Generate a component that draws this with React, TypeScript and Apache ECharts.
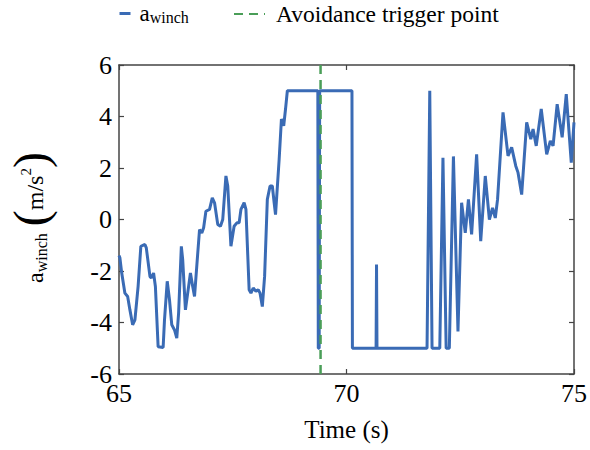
import React, { useEffect, useRef } from "react";
import * as echarts from "echarts";

const times: number[] = [
  65.0, 65.02, 65.06, 65.13, 65.19, 65.24, 65.3, 65.35, 65.42, 65.48, 65.57, 65.6, 65.68, 65.71, 65.76, 65.8,
  65.86, 65.97, 66.0, 66.06, 66.11, 66.16, 66.22, 66.27, 66.31, 66.37, 66.4, 66.46, 66.51, 66.57, 66.62, 66.66,
  66.72, 66.77, 66.82, 66.86, 66.91, 66.99, 67.05, 67.1, 67.17, 67.23, 67.28, 67.35, 67.39, 67.46, 67.53, 67.59,
  67.64, 67.68, 67.75, 67.79, 67.86, 67.9, 67.95, 68.01, 68.06, 68.1, 68.15, 68.2, 68.26, 68.32, 68.37, 68.41,
  68.44, 68.52, 68.57, 68.62, 68.66, 68.7, 69.37, 69.38, 69.4, 69.41, 70.12, 70.13, 70.65, 70.66, 70.67, 71.77,
  71.78, 71.83, 71.88, 72.05, 72.12, 72.19, 72.26, 72.35, 72.45, 72.53, 72.61, 72.68, 72.75, 72.86, 72.95, 73.05,
  73.14, 73.21, 73.27, 73.32, 73.44, 73.55, 73.63, 73.72, 73.77, 73.85, 73.96, 74.05, 74.1, 74.17, 74.28, 74.4,
  74.48, 74.54, 74.63, 74.74, 74.83, 74.94, 75.0,
];

const winchAccel: number[] = [
  -1.4, -1.49, -2.08, -2.86, -2.99, -3.51, -4.09, -3.9, -2.6, -1.04, -0.97, -1.1, -2.21, -2.27, -2.08, -2.6,
  -4.94, -4.97, -3.9, -2.4, -3.12, -4.09, -4.29, -4.61, -3.64, -1.04, -1.56, -3.51, -2.86, -2.08, -2.6, -2.99,
  -1.56, -0.39, -0.52, -0.32, 0.32, 0.39, 0.84, 0.65, -0.19, -0.26, 0.0, 1.69, 1.3, -1.04, -0.26, -0.13,
  -0.13, 0.39, 0.65, 0.39, -2.73, -2.86, -2.66, -2.79, -2.73, -2.86, -3.38, -2.21, 0.78, 1.3, 1.3, 0.65,
  0.19, 2.34, 3.9, 3.64, 4.29, 5.0, 5.0, -5.0, -5.0, 5.0, 5.0, -5.0, -5.0, -1.75, -5.0, -5.0,
  -5.0, 5.0, -5.0, -5.0, 2.4, -5.0, -5.0, 2.45, -4.35, 0.65, -0.52, 0.78, -0.58, 2.53, -0.84, 1.69,
  0.0, 0.45, 0.06, 0.78, 4.16, 2.47, 2.8, 2.08, 1.82, 0.97, 3.77, 3.12, 3.51, 2.86, 4.29, 2.53,
  3.05, 2.86, 4.48, 3.19, 4.87, 2.21, 3.77,
];

const triggerTime = 69.43;
const yRange: number[] = [-6, 6];
const xTicks: number[] = [65, 70, 75];

// y-axis label pieces: [text, fontSize, baseline offset]
const yLabelParts: [string, number, number][] = [
  ["a", 24, 0],
  ["winch", 16, 4],
  ["(", 48, 4],
  ["m/s", 24, 0],
  ["2", 15, -12],
  [")", 48, 4],
];

const FONT = "'Liberation Serif', 'Times New Roman', serif";
const BLUE = "#3a6bb5";
const GREEN = "#4a9e58";
const AXIS = "#444444";

function measure(text: string, size: number): number {
  const c = document.createElement("canvas").getContext("2d");
  if (!c) return text.length * size * 0.5;
  c.font = `${size}px ${FONT}`;
  return c.measureText(text).width;
}

export default function App() {
  const ref = useRef<HTMLDivElement>(null);
  useEffect(() => {
    if (!ref.current) return;
    const chart = echarts.init(ref.current, undefined, { renderer: "svg" });
    const lineData = times.map((t, i) => [t, winchAccel[i]]);
    const axisCommon = {
      axisLine: { show: true, onZero: false, lineStyle: { color: AXIS, width: 1.5 } },
      axisTick: { show: true, inside: true, length: 5, lineStyle: { color: AXIS, width: 1.2 } },
      splitLine: { show: false },
    };

    // build rotated y label
    const gaps = [0, 0, 7, 0, 0, 0];
    let cx = 0;
    const labelChildren = yLabelParts.map(([t, fs, off], i) => {
      cx += gaps[i];
      const el = {
        type: "text",
        x: cx,
        y: off - 0.34 * fs,
        style: {
          text: t,
          fontSize: fs,
          fontFamily: FONT,
          fill: "#000",
          align: "left",
          verticalAlign: "middle",
        },
      };
      cx += measure(t, fs);
      return el;
    });

    chart.setOption({
      animation: false,
      backgroundColor: "#ffffff",
      textStyle: { fontFamily: FONT },
      grid: { left: 119, right: 12, top: 65, bottom: 76 },
      graphic: [
        {
          type: "group",
          x: 43,
          y: 283,
          rotation: Math.PI / 2,
          children: labelChildren,
        },
      ],
      legend: [
        {
          data: ["a_winch"],
          left: 116,
          top: 0,
          padding: 2,
          itemWidth: 11,
          itemHeight: 10,
          itemStyle: { opacity: 0 },
          lineStyle: { width: 3 },
          formatter: () => "{a|a}{sub|winch}",
          textStyle: {
            fontFamily: FONT,
            color: "#000",
            padding: [0, 0, 0, 4],
            rich: {
              a: { fontSize: 23, fontFamily: FONT, color: "#000", lineHeight: 24 },
              sub: { fontSize: 16, fontFamily: FONT, color: "#000", verticalAlign: "bottom", lineHeight: 18 },
            },
          },
        },
        {
          data: ["Avoidance trigger point"],
          left: 231,
          top: 0,
          padding: 2,
          itemWidth: 31,
          itemHeight: 10,
          itemStyle: { opacity: 0 },
          textStyle: { fontFamily: FONT, fontSize: 23.5, color: "#000", lineHeight: 24, padding: [0, 0, 0, 6] },
        },
      ],
      xAxis: [
        {
          type: "value",
          position: "bottom",
          min: xTicks[0],
          max: xTicks[xTicks.length - 1],
          interval: 5,
          name: "Time (s)",
          nameLocation: "middle",
          nameGap: 43,
          nameTextStyle: { fontFamily: FONT, fontSize: 25, color: "#000" },
          axisLabel: { fontFamily: FONT, fontSize: 26, color: "#000", margin: 6 },
          ...axisCommon,
        },
        {
          type: "value",
          position: "top",
          min: xTicks[0],
          max: xTicks[xTicks.length - 1],
          interval: 5,
          axisLabel: { show: false },
          ...axisCommon,
        },
      ],
      yAxis: [
        {
          type: "value",
          position: "left",
          min: yRange[0],
          max: yRange[1],
          interval: 2,
          axisLabel: { fontFamily: FONT, fontSize: 26, color: "#000", margin: 7, lineHeight: 22 },
          ...axisCommon,
        },
        {
          type: "value",
          position: "right",
          min: yRange[0],
          max: yRange[1],
          interval: 2,
          axisLabel: { show: false },
          ...axisCommon,
        },
      ],
      series: [
        {
          name: "a_winch",
          type: "line",
          data: lineData,
          symbol: "none",
          lineStyle: { color: BLUE, width: 3 },
          itemStyle: { color: BLUE },
          z: 2,
        },
        {
          name: "Avoidance trigger point",
          type: "line",
          data: [
            [triggerTime, yRange[0]],
            [triggerTime, yRange[1]],
          ],
          symbol: "none",
          lineStyle: { color: GREEN, width: 2.5, type: [9, 6] },
          itemStyle: { color: GREEN },
          z: 3,
        },
      ],
    });
    return () => chart.dispose();
  }, []);
  return <div ref={ref} style={{ width: 590, height: 450, position: "absolute", left: 0, top: 0 }} />;
}
